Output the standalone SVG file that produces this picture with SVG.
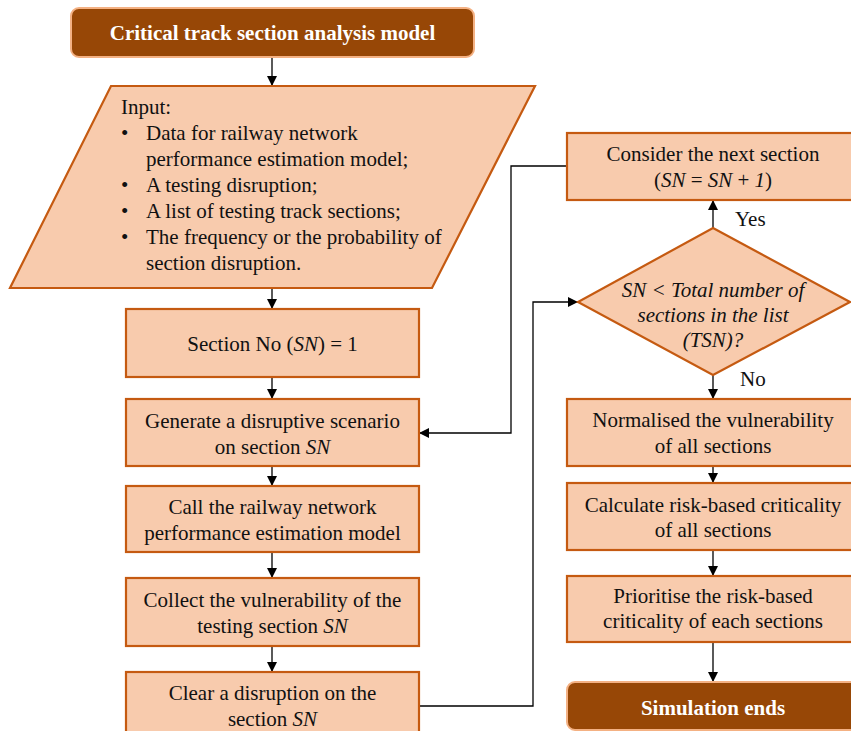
<svg xmlns="http://www.w3.org/2000/svg" width="851" height="731" viewBox="0 0 851 731">
<defs>
<marker id="ah" viewBox="0 0 10 10" refX="10" refY="5" markerWidth="10" markerHeight="10" markerUnits="userSpaceOnUse" orient="auto">
<path d="M0,0 L10,5 L0,10 z" fill="#000"/>
</marker>
<style>
.box{fill:#F8CBAD;stroke:#C55A11;stroke-width:2.2}
.term{fill:#974706;stroke:#F4B183;stroke-width:2}
.t{font-family:"Liberation Serif","Times New Roman",serif;font-size:21px;fill:#111}
.c{text-anchor:middle}
.w{font-family:"Liberation Serif","Times New Roman",serif;font-size:21px;font-weight:bold;fill:#fff;text-anchor:middle}
.i{font-style:italic}
.ln{fill:none;stroke:#000;stroke-width:1.3}
</style>
</defs>
<rect width="851" height="731" fill="#fff"/>
<g id="connectors">
<path class="ln" d="M272,57 V86" marker-end="url(#ah)"/>
<path class="ln" d="M272,288 V309" marker-end="url(#ah)"/>
<path class="ln" d="M272,377 V399" marker-end="url(#ah)"/>
<path class="ln" d="M272,466 V486" marker-end="url(#ah)"/>
<path class="ln" d="M272,552 V578" marker-end="url(#ah)"/>
<path class="ln" d="M272,646 V672" marker-end="url(#ah)"/>
<path class="ln" d="M713,228 V200" marker-end="url(#ah)"/>
<path class="ln" d="M567,166 H511 V433 H419" marker-end="url(#ah)"/>
<path class="ln" d="M419,706 H533 V302 H578" marker-end="url(#ah)"/>
<path class="ln" d="M713,375 V399" marker-end="url(#ah)"/>
<path class="ln" d="M713,466 V483" marker-end="url(#ah)"/>
<path class="ln" d="M713,550 V576" marker-end="url(#ah)"/>
<path class="ln" d="M713,642 V682" marker-end="url(#ah)"/>
<text class="t" x="735" y="226">Yes</text>
<text class="t" x="740" y="386">No</text>
</g>
<g id="start">
<rect class="term" x="71" y="8" width="403" height="49" rx="8"/>
<text class="w" x="272.5" y="40">Critical  track section analysis  model</text>
</g>
<g id="input">
<path class="box" d="M111,86 H535 L432,288 H10 Z"/>
<text class="t" x="121" y="114">Input:</text>
<text class="t" x="121" y="140">•</text><text class="t" x="146" y="140">Data for railway network</text>
<text class="t" x="146" y="166">performance estimation model;</text>
<text class="t" x="121" y="192">•</text><text class="t" x="146" y="192">A testing disruption;</text>
<text class="t" x="121" y="218">•</text><text class="t" x="146" y="218">A list of testing track sections;</text>
<text class="t" x="121" y="244">•</text><text class="t" x="146" y="244">The frequency or the probability of</text>
<text class="t" x="146" y="270">section disruption.</text>
</g>
<g id="sectionNo">
<rect class="box" x="126" y="309" width="293" height="68"/>
<text class="t c" x="272.5" y="351">Section No (<tspan class="i">SN</tspan>) = 1</text>
</g>
<g id="generate">
<rect class="box" x="126" y="399" width="293" height="67"/>
<text class="t c" x="272.5" y="428">Generate a disruptive scenario</text>
<text class="t c" x="272.5" y="454">on section <tspan class="i">SN</tspan></text>
</g>
<g id="call">
<rect class="box" x="126" y="486" width="293" height="66"/>
<text class="t c" x="272.5" y="514">Call the railway network</text>
<text class="t c" x="272.5" y="540">performance estimation model</text>
</g>
<g id="collect">
<rect class="box" x="126" y="578" width="293" height="68"/>
<text class="t c" x="272.5" y="607">Collect the vulnerability of the</text>
<text class="t c" x="272.5" y="633">testing section <tspan class="i">SN</tspan></text>
</g>
<g id="clear">
<rect class="box" x="126" y="672" width="293" height="70"/>
<text class="t c" x="272.5" y="700">Clear a disruption on the</text>
<text class="t c" x="272.5" y="726">section <tspan class="i">SN</tspan></text>
</g>
<g id="consider">
<rect class="box" x="567" y="133" width="292" height="67"/>
<text class="t c" x="713" y="161">Consider the next section</text>
<text class="t c" x="713" y="187">(<tspan class="i">SN</tspan> = <tspan class="i">SN</tspan> + <tspan class="i">1</tspan>)</text>
</g>
<g id="decision">
<path class="box" d="M713,228 L850,302 L713,375 L578,302 Z"/>
<text class="t c i" x="713" y="297">SN &lt; Total number of</text>
<text class="t c i" x="713" y="322">sections in the list</text>
<text class="t c i" x="713" y="347">(TSN)?</text>
</g>
<g id="normalise">
<rect class="box" x="567" y="399" width="292" height="67"/>
<text class="t c" x="713" y="427">Normalised the vulnerability</text>
<text class="t c" x="713" y="453">of all sections</text>
</g>
<g id="calculate">
<rect class="box" x="567" y="483" width="292" height="67"/>
<text class="t c" x="713" y="512">Calculate risk-based criticality</text>
<text class="t c" x="713" y="537">of all sections</text>
</g>
<g id="prioritise">
<rect class="box" x="567" y="576" width="292" height="66"/>
<text class="t c" x="713" y="603">Prioritise the risk-based</text>
<text class="t c" x="713" y="628">criticality of each sections</text>
</g>
<g id="end">
<rect class="term" x="567" y="682" width="292" height="48" rx="8"/>
<text class="w" x="713" y="715">Simulation  ends</text>
</g>
</svg>
